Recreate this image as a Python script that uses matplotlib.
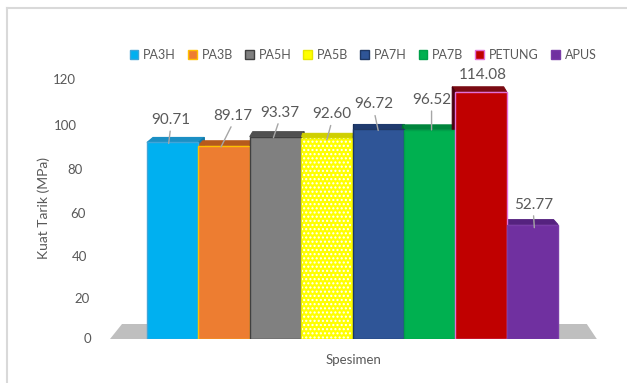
import matplotlib.pyplot as plt
from matplotlib.patches import Polygon, Patch
from matplotlib.lines import Line2D
from matplotlib.transforms import ScaledTranslation

plt.rcParams['font.family'] = ['Lato', 'DejaVu Sans']

specimens = ['PA3H', 'PA3B', 'PA5H', 'PA5B', 'PA7H', 'PA7B', 'PETUNG', 'APUS']
tensile = [90.71, 89.17, 93.37, 92.60, 96.72, 96.52, 114.08, 52.77]
yticks = [0, 20, 40, 60, 80, 100, 120]

face = ['#00B0F0', '#ED7D31', '#808080', '#FFFF00', '#2F5597', '#00B050', '#C00000', '#7030A0']
edge = ['#41A5D8', '#FFC000', '#404040', '#E6E600', '#1F3864', '#00A04A', '#E36FD9', '#7A3CA8']
top = ['#1B8FC4', '#B65A1C', '#505050', '#CFCF00', '#1F3A6E', '#00853C', '#7A0A12', '#55227F']
side = ['#147AA8', '#9A4A14', '#3A3A3A', '#B0B000', '#182E58', '#006E30', '#4A0010', '#441A66']

txt = '#595959'
W, H = 627, 383
fig = plt.figure(figsize=(W / 100, H / 100), dpi=100)
ax = fig.add_axes([100 / W, (H - 339) / H, 510 / W, 269 / H])

ux = 51.4          # pixels per category
uy = 260 / 120     # pixels per MPa
ax.set_xlim(-0.5 - 47 / ux, 7.5 + 52 / ux)
ax.set_ylim(0, 269 / uy)

# floor slab
floor = Polygon([(-1.22, 0), (8.255, 0), (8.06, 15 / uy), (-0.986, 15 / uy)],
                closed=True, fc='#BFBFBF', ec='none', zorder=1, clip_on=False)
ax.add_patch(floor)

# perspective shift of the back edge, in pixels
shift = [6, 4.5, 3, 1.5, 0, -1.5, -3, -4.5]
depth = 5 / uy
for i, v in enumerate(tensile):
    d = shift[i] / ux
    x0, x1 = i - 0.5, i + 0.5
    ax.add_patch(Polygon([(x0, v), (x1, v), (x1 + d, v + depth), (x0 + d, v + depth)],
                         closed=True, fc=top[i], ec=top[i], lw=0.8, zorder=2))
    xs = x1 if d > 0 else x0
    ax.add_patch(Polygon([(xs, 0), (xs + d, depth), (xs + d, v + depth), (xs, v)],
                         closed=True, fc=side[i], ec=side[i], lw=0.8, zorder=2))

x = list(range(len(tensile)))
ax.bar(x, tensile, width=1.0, color=face, edgecolor=edge, lw=1, zorder=3)
# white dash pattern on PA5B
ax.bar([3], [tensile[3]], width=0.96, color='none', edgecolor='white', lw=0,
       hatch='....', zorder=4)

# value labels with leader lines (pixel offsets)
text_off = [(-2, -22.5), (9, -30), (4, -24), (5, -24), (-4, -25), (2, -30), (2, -17), (1, -20)]
tip_off = [(-4, 1), (-3, 1), (-2, 1), (0, 1.5), (0, 1), (2, 0), (0, 0), (2, 3)]
leader = [True, True, True, True, True, True, False, True]
for i, v in enumerate(tensile):
    tx, ty = text_off[i]
    px, py = tip_off[i]
    props = dict(arrowstyle='-', color='#A6A6A6', lw=1, shrinkA=1, shrinkB=0,
                 relpos=(0.5, 0.0)) if leader[i] else None
    ax.annotate(f'{v:.2f}', xy=(i + px / ux, v - py / uy), xytext=(tx - px, -(ty - py)),
                textcoords='offset pixels', ha='center', va='center',
                fontsize=11, color=txt, arrowprops=props, zorder=6)

ax.set_xticks([])
ax.set_yticks(yticks)
ax.set_yticklabels([str(t) for t in yticks], fontsize=9.5, color=txt)
ax.tick_params(axis='y', length=0, pad=6.5)
# labels sit on a slanted back wall
lab_dx = [0, -1, -4, -5, -8, -14, -15]
lab_dy = [-1, 2, 4, 4, 3, 3, 0]
for lab, dx, dy in zip(ax.get_yticklabels(), lab_dx, lab_dy):
    lab.set_transform(lab.get_transform() + ScaledTranslation(dx / 100, -dy / 100, fig.dpi_scale_trans))
for s in ax.spines.values():
    s.set_visible(False)
ax.patch.set_visible(False)

fig.text(44 / W, 1 - 208 / H, 'Kuat Tarik (MPa)', rotation=90, ha='center', va='center',
         fontsize=10, color=txt)
fig.text(353 / W, 1 - 360 / H, 'Spesimen', ha='center', va='center', fontsize=9.5, color=txt)

handles = [Patch(fc=face[i], ec=edge[i], lw=1) for i in range(len(specimens))]
fig.legend(handles, specimens, loc='center', bbox_to_anchor=(363 / W, 1 - 55 / H), ncol=8,
           frameon=False, fontsize=9, labelcolor=txt, handlelength=0.7, handleheight=0.7,
           handletextpad=0.4, columnspacing=0.95)

# chart border
fig.add_artist(Line2D([7 / W, 1], [1 - 8 / H, 1 - 8 / H], color='#D9D9D9', lw=1.5))
fig.add_artist(Line2D([7 / W, 7 / W], [0, 1 - 8 / H], color='#D9D9D9', lw=1.5))

fig.savefig('out.png', dpi=100)
